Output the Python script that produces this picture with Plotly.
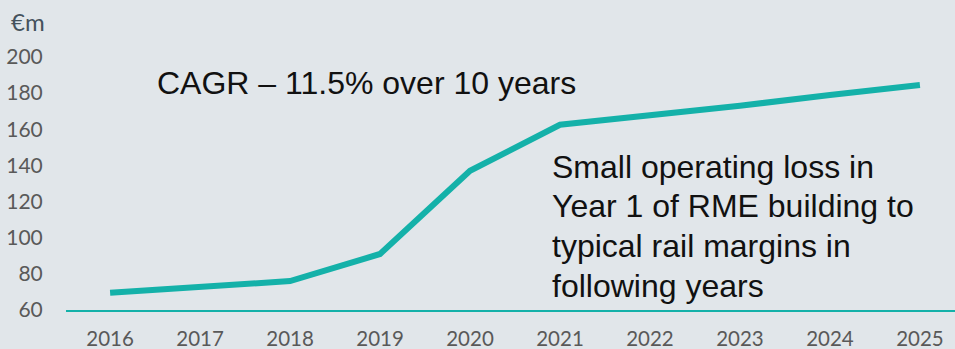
import plotly.graph_objects as go

years = ["2016", "2017", "2018", "2019", "2020", "2021", "2022", "2023", "2024", "2025"]
revenue = [69.5, 72.5, 76, 91, 137, 162.5, 167.5, 173, 179, 184.5]
y_ticks = [60, 80, 100, 120, 140, 160, 180, 200]
note_lines = ["Small operating loss in", "Year 1 of RME building to",
              "typical rail margins in", "following years"]

teal = "#14B1A9"
bg = "#E1E6EA"
tick_col = "#595959"

fig = go.Figure()
fig.add_trace(go.Scatter(
    x=years, y=revenue, mode="lines",
    line=dict(color=teal, width=6), hoverinfo="skip",
))

PL, PT, PB = 66, 57, 39
PW, PH = 955 - PL, 349 - PT - PB

def px(x):
    return (x - PL) / PW

def py(y):
    return (349 - PB - y) / PH

annotations = [
    dict(text="€m", xref="paper", yref="paper", x=px(9), y=py(22),
         xanchor="left", yanchor="middle", showarrow=False,
         font=dict(size=24, color="#45525d", family="Lato")),
    dict(text="CAGR – 11.5% over 10 years", xref="paper", yref="paper",
         x=px(155), y=py(83),
         xanchor="left", yanchor="middle", showarrow=False,
         font=dict(size=32, color="#111111", family="Liberation Sans")),
]
for i, line in enumerate(note_lines):
    annotations.append(dict(
        text=line, xref="paper", yref="paper",
        x=px(550), y=py(167 + 39.5 * i),
        xanchor="left", yanchor="middle", align="left", showarrow=False,
        font=dict(size=32, color="#111111", family="Liberation Sans")))

fig.update_layout(
    width=955, height=349,
    paper_bgcolor=bg, plot_bgcolor=bg,
    margin=dict(l=PL, r=0, t=PT, b=PB, pad=0, autoexpand=False),
    showlegend=False,
    font=dict(family="Lato", color=tick_col),
    xaxis=dict(
        type="category", range=[-0.49, 9.39], automargin=False,
        showgrid=False, zeroline=False,
        showline=True, linecolor=teal, linewidth=2,
        ticks="outside", ticklen=9, tickcolor="rgba(0,0,0,0)",
        tickfont=dict(size=20.5, color=tick_col, family="Lato"),
    ),
    yaxis=dict(
        range=[60, 200], tickvals=y_ticks, automargin=False,
        showgrid=False, zeroline=False, showline=False,
        ticks="outside", ticklen=18, tickcolor="rgba(0,0,0,0)",
        tickfont=dict(size=21, color=tick_col, family="Lato"),
    ),
    annotations=annotations,
)

fig.write_html("out.html", config={"displayModeBar": False},
               post_script="document.body.style.margin='0';document.body.style.overflow='hidden';")
